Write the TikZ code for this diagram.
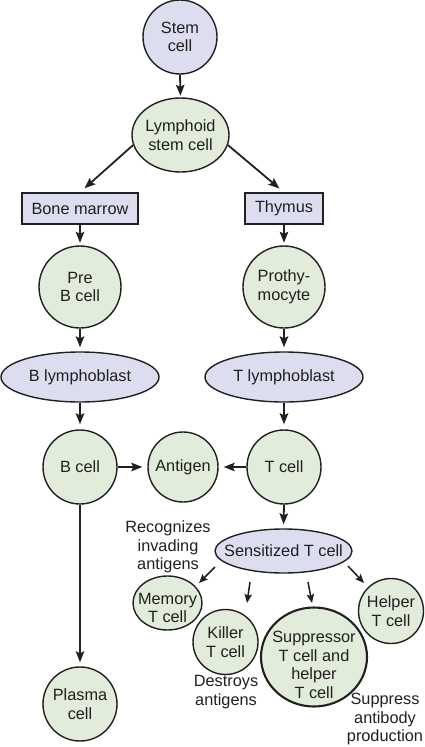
\documentclass[tikz,border=0pt]{standalone}
\usepackage{fontspec}
\setmainfont{Liberation Sans}
\usetikzlibrary{shapes.geometric,arrows.meta}
\definecolor{lav}{RGB}{220,222,240}
\definecolor{grn}{RGB}{225,236,219}
\definecolor{ink}{RGB}{35,31,32}
\begin{document}
\begin{tikzpicture}[x=1pt,y=-1pt,
  every node/.style={font=\fontsize{16.3}{18.7}\selectfont, text=ink, align=center, inner sep=0pt},
  cell/.style={circle, draw=ink, line width=1.4pt, fill=grn, minimum size=#1},
  gell/.style={ellipse, draw=ink, line width=1.4pt, fill=grn, inner xsep=-30pt},
  lell/.style={ellipse, draw=ink, line width=1.4pt, fill=lav, inner xsep=-30pt},
  box/.style={rectangle, draw=ink, line width=1.4pt, fill=lav, minimum height=31pt},
  txt/.style={},
  arr/.style={draw=ink, line width=1.8pt, -{Stealth[length=11pt,width=8.5pt,inset=2pt]}},
  sarr/.style={draw=ink, line width=1.5pt, -{Stealth[length=9pt,width=7.5pt,inset=1.8pt]}}
]
\useasboundingbox (0,0) rectangle (424,747);

\node[cell=74pt, fill=lav] (stem) at (180,37) {Stem\\cell};
\node[gell, minimum width=97pt, minimum height=74pt] (lymph) at (180.5,135) {Lymphoid\\stem cell};
\node[box, minimum width=116pt] (bm) at (80,208.5) {Bone marrow};
\node[box, minimum width=78pt] (thy) at (284,208.5) {Thymus};
\node[cell=82pt] (preb) at (80,287) {Pre\\B cell};
\node[cell=82pt] (proth) at (284,287) {Prothy-\\mocyte};
\node[lell, minimum width=158pt, minimum height=50pt] (blym) at (80,377) {B lymphoblast};
\node[lell, minimum width=158pt, minimum height=50pt] (tlym) at (284,377) {T lymphoblast};
\node[cell=74pt] (bcell) at (80,467) {B cell};
\node[cell=70pt] (antigen) at (183,467) {Antigen};
\node[cell=74pt] (tcell) at (284,467) {T cell};
\node[lell, minimum width=137pt, minimum height=44pt] (sens) at (283.5,551) {Sensitized T cell};
\node[txt] (recog) at (168,547) {Recognizes\\invading\\antigens};
\node[gell, minimum width=69pt, minimum height=54pt] (mem) at (167.5,603) {};
\node[txt] (memtxt) at ([yshift=-5pt]mem.center) {Memory\\T cell};
\node[cell=65pt] (killer) at (225.5,642) {Killer\\T cell};
\node[gell, line width=2.1pt, minimum width=106pt, minimum height=99pt] (supp) at (314,657) {};
\node[txt] (supptxt) at ([yshift=-8pt]supp.center) {Suppressor\\T cell and\\helper\\T cell};
\node[cell=65pt] (helper) at (391,611) {Helper\\T cell};
\node[txt] (destroy) at (226,692) {Destroys\\antigens};
\node[cell=74pt] (plasma) at (80,704) {Plasma\\cell};
\node[txt] (suppress) at (385,719) {Suppress\\antibody\\production};

\draw[arr, shorten >=1.5pt] (stem.south) -- (lymph.north);
\draw[arr, shorten >=6pt] (lymph.192) -- (bm.north);
\draw[arr, shorten >=6pt] (lymph.348) -- (thy.north);
\draw[arr, shorten >=2.5pt] (bm.south) -- (preb.north);
\draw[arr, shorten >=2.5pt] (thy.south) -- (proth.north);
\draw[arr, shorten >=4pt] (preb.south) -- (blym.north);
\draw[arr, shorten >=4pt] (proth.south) -- (tlym.north);
\draw[arr, shorten >=5pt] (blym.south) -- (bcell.north);
\draw[arr, shorten >=5pt] (tlym.south) -- (tcell.north);
\draw[arr, shorten >=5pt] (bcell.east) -- (antigen.west);
\draw[arr, shorten >=5pt] (tcell.west) -- (antigen.east);
\draw[arr, shorten >=4pt] (tcell.south) -- (sens.north);
\draw[arr, shorten >=4pt] (bcell.south) -- (plasma.north);
\draw[sarr] ([shift={(-68.5,16)}]sens.center) -- ([shift={(31.5,-20)}]mem.center);
\draw[sarr] ([shift={(-33.5,31)}]sens.center) -- ([shift={(21.5,-39)}]killer.center);
\draw[sarr] ([shift={(24.5,31)}]sens.center) -- ([shift={(-2,-54)}]supp.center);
\draw[sarr] ([shift={(64.5,15)}]sens.center) -- ([shift={(-27,-28)}]helper.center);
\end{tikzpicture}
\end{document}
